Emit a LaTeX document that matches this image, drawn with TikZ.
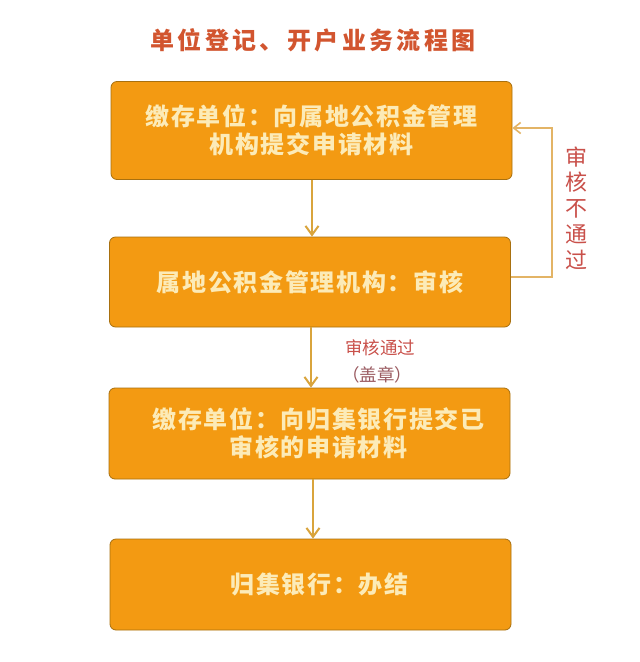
\documentclass[tikz,border=0pt]{standalone}
\usepackage{fontspec}
\newfontfamily\cjk[LetterSpace=7]{Noto Sans CJK SC}
\newfontfamily\cjktitle[LetterSpace=14]{Noto Sans CJK SC}
\newfontfamily\cjkplain{Noto Sans CJK SC}
\usetikzlibrary{arrows.meta}
\definecolor{boxfill}{HTML}{F39A12}
\definecolor{boxedge}{HTML}{A8700F}
\definecolor{boxtext}{HTML}{FCEBB8}
\definecolor{titlered}{HTML}{D2552F}
\definecolor{labred}{HTML}{C9504A}
\definecolor{labgray}{HTML}{9A5A60}
\definecolor{arrowgold}{HTML}{D9A43C}
\definecolor{loopgold}{HTML}{E3B466}
\tikzset{
  stepbox/.style={draw=boxedge, line width=0.8pt, fill=boxfill, rounded corners=6pt,
    minimum width=401pt, inner sep=0pt, align=center, text=boxtext,
    font=\cjk\bfseries\fontsize{24}{28}\selectfont},
  flow/.style={draw=arrowgold, line width=2pt, -{Straight Barb[length=9pt,width=13pt,line width=2pt]}},
  loopline/.style={draw=loopgold, line width=1.6pt, -{Straight Barb[length=7pt,width=11pt,line width=1.6pt]}}
}
\begin{document}
\begin{tikzpicture}[x=1pt,y=-1pt]
\useasboundingbox (0,0) rectangle (640,662);
\fill[white] (0,0) rectangle (640,662);
\node[text=titlered, font=\cjktitle\bfseries\fontsize{24}{28}\selectfont] (title) at (313,40) {单位登记、开户业务流程图};
\node[stepbox, minimum height=98pt] (b1) at (311.5,130.5) {缴存单位：向属地公积金管理\\机构提交申请材料};
\node[stepbox, minimum height=90pt] (b2) at (310,282) {属地公积金管理机构：审核};
\node[stepbox, minimum height=91pt] (b3) at (309.5,433.5) {\hspace*{18pt}缴存单位：向归集银行提交已\\\hspace*{18pt}审核的申请材料};
\node[stepbox, minimum height=91pt] (b4) at (310.5,584.5) {\hspace*{18pt}归集银行：办结};
\draw[flow] (b1.south -| 312,0) -- (b2.north -| 312,0);
\draw[flow] (b2.south -| 311,0) -- (b3.north -| 311,0);
\draw[flow] (b3.south -| 313,0) -- (b4.north -| 313,0);
\coordinate (c1) at (552,277);
\coordinate (c2) at (552,128);
\draw[loopline] (b2.east |- c1) -- (c1) -- (c2) -- (b1.east |- c2);
\node[text=labred, align=center, font=\cjkplain\fontsize{22}{25.75}\selectfont] (fail) at (576,208) {审\\核\\不\\通\\过};
\node[text=labred, font=\cjkplain\fontsize{17.5}{20}\selectfont] (pass) at (380,348) {审核通过};
\node[text=labgray, font=\cjkplain\fontsize{17.5}{20}\selectfont] (seal) at (377,375) {（盖章）};
\end{tikzpicture}
\end{document}
